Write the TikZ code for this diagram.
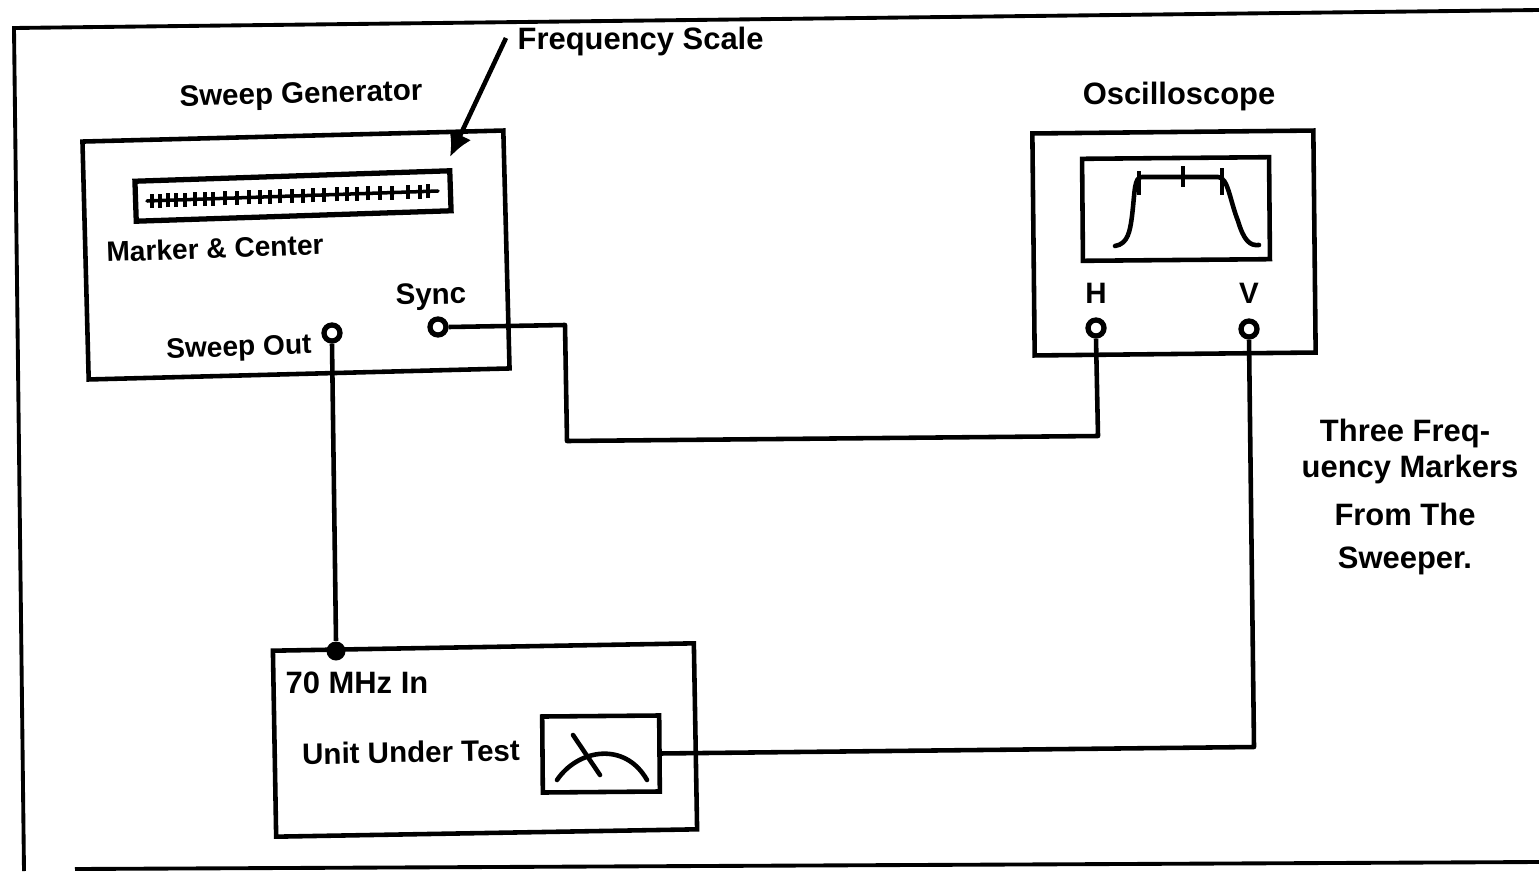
\documentclass[tikz,border=0pt]{standalone}
\usepackage{fontspec}
\setmainfont{Liberation Sans}
\usetikzlibrary{arrows.meta, positioning}

\begin{document}
\begin{tikzpicture}[
  unitbox/.style={draw, line width=1.3pt, inner sep=0pt},
  port/.style={draw, circle, line width=1.5pt, fill=white, minimum size=0.16cm, inner sep=0pt},
  wire/.style={line width=1.3pt, line join=round},
  trace/.style={line width=1.3pt, line cap=round},
  lbl/.style={inner sep=0pt, font=\fontsize{8.4}{10}\selectfont\bfseries},
  lblbig/.style={inner sep=0pt, font=\fontsize{8.8}{10}\selectfont\bfseries},
  lblsmall/.style={inner sep=0pt, font=\fontsize{8}{10}\selectfont\bfseries},
  arr/.style={-{Latex[length=2.4mm, width=2.4mm]}, line width=1.3pt}
]
\useasboundingbox (0,0) rectangle (15.39,8.71);

% outer frame
\draw[line width=1.1pt] (15.39,8.61) -- (0.14,8.43) -- (0.24,0);
\draw[line width=1.1pt] (0.75,0.02) -- (15.39,0.09);

% sweep generator
\node[unitbox, minimum width=4.21cm, minimum height=2.38cm, rotate=1.5] (sweepgen) at (2.96,6.16) {};
\node[unitbox, line width=1.5pt, minimum width=3.15cm, minimum height=0.40cm, rotate=1.9] (scalebox) at (2.93,6.75) {};
\node[lbl, rotate=1.5] (sweeplabel) at (3.01,7.75) {Sweep Generator};
\node[lblsmall, rotate=2] (markerlabel) at (2.15,6.23) {Marker \& Center};
\node[lbl, rotate=1] (synclabel) at (4.31,5.74) {Sync};
\node[lblsmall, rotate=2] (outlabel) at (2.39,5.22) {Sweep Out};
\node[port] (syncport) at (4.38,5.44) {};
\node[port] (outport) at (3.32,5.38) {};
\node[lblbig, anchor=west] (freqlabel) at (5.17,8.29) {Frequency Scale};
\coordinate (freqtip) at (4.50,7.14);
\draw[arr] (freqlabel.west) ++(-0.11,0.04) -- (freqtip);

% frequency scale ticks
\draw[trace, line width=1pt] (1.47,6.70) -- (4.38,6.80);
\foreach \tx in {1.52,1.60,1.68,1.76,1.85,1.95,2.05,2.13,2.25,2.37,2.49,2.60,2.70,2.80,2.92,3.03,3.13,3.24,3.37,3.47,3.57,3.68,3.80,3.92,4.08,4.20,4.28}
  \draw[line width=1pt] ({\tx},{6.70+(\tx-1.47)*0.0344-0.07}) -- ++(0,0.14);

% oscilloscope
\node[unitbox, minimum width=2.81cm, minimum height=2.22cm, rotate=0.6] (scope) at (11.74,6.28) {};
\node[unitbox, minimum width=1.87cm, minimum height=1.02cm, rotate=0.5] (screen) at (11.76,6.62) {};
\node[lblbig] (scopelabel) at (11.79,7.74) {Oscilloscope};
\node[lbl] (hlabel) at (10.96,5.78) {H};
\node[lbl] (vlabel) at (12.49,5.78) {V};
\node[port] (hport) at (10.96,5.43) {};
\node[port] (vport) at (12.49,5.42) {};
\draw[trace] (11.15,6.25) .. controls (11.28,6.27) and (11.30,6.40) .. (11.32,6.55)
  .. controls (11.35,6.80) and (11.34,6.94) .. (11.42,6.94) -- (12.18,6.94)
  .. controls (12.28,6.94) and (12.30,6.70) .. (12.38,6.50)
  .. controls (12.44,6.30) and (12.50,6.25) .. (12.59,6.26);
\draw[line width=1.4pt] (11.39,7.00) -- (11.39,6.76);
\draw[line width=1.4pt] (11.83,7.05) -- (11.83,6.84);
\draw[line width=1.4pt] (12.22,7.03) -- (12.22,6.76);

% unit under test
\node[unitbox, minimum width=4.21cm, minimum height=1.86cm, rotate=1] (uut) at (4.85,1.31) {};
\node[unitbox, minimum width=1.17cm, minimum height=0.76cm, rotate=0.5] (meter) at (6.01,1.17) {};
\node[lblbig] (inlabel) at (3.57,1.88) {70 MHz In};
\node[lbl, rotate=1] (uutlabel) at (4.11,1.19) {Unit Under Test};
\node[circle, fill=black, inner sep=0pt, minimum size=0.19cm] (indot) at (3.36,2.20) {};
\draw[trace] (5.57,0.91) .. controls (5.78,1.22) and (6.25,1.30) .. (6.47,0.91);
\draw[trace] (5.73,1.36) -- (6.00,0.96);

% wiring
\coordinate (bendA) at (5.65,5.46);
\coordinate (bendB) at (5.67,4.30);
\coordinate (bendC) at (10.98,4.35);
\coordinate (bendD) at (12.54,1.24);
\draw[wire] (outport.south) -- (indot.north);
\draw[wire] (syncport.east) -- (bendA) -- (bendB) -- (bendC) -- (hport.south);
\draw[wire] (vport.south) -- (bendD) -- (meter.east);

% note at right
\node[lblbig, align=center] (note) at (14.05,3.74) {Three Freq-\\[0.01cm]\hspace*{0.1cm}uency Markers\\[0.13cm]From The\\[0.08cm]Sweeper.};
\end{tikzpicture}
\end{document}
